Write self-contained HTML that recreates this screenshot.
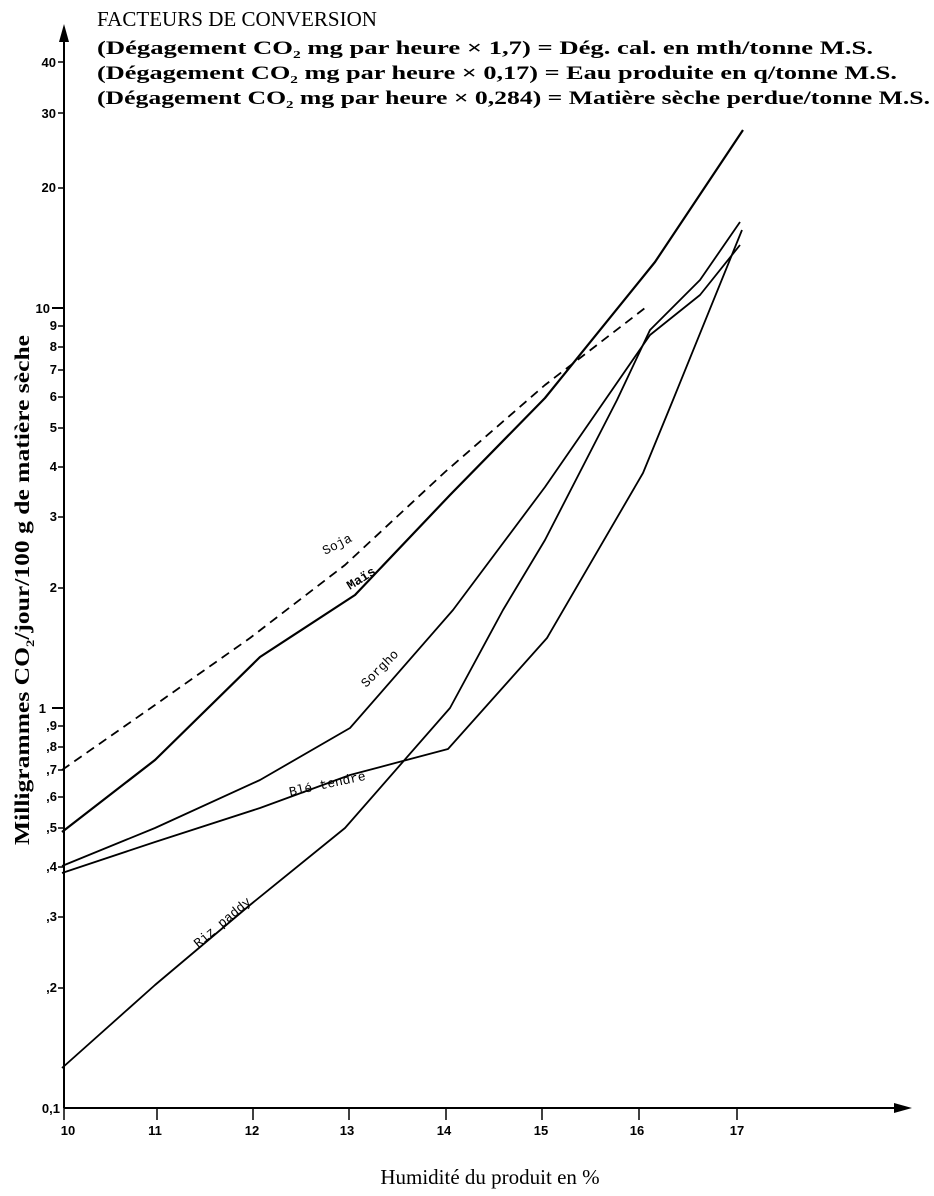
<!DOCTYPE html>
<html><head><meta charset="utf-8"><style>
html,body{margin:0;padding:0;background:#fff;width:934px;height:1196px;overflow:hidden}
svg{display:block}
text{font-family:"Liberation Serif",serif;fill:#000}
.t{font-family:"Liberation Sans",sans-serif;font-weight:bold;font-size:13px}
.l{font-family:"Liberation Mono",monospace;font-size:13px}
</style></head><body>
<svg width="934" height="1196" viewBox="0 0 934 1196" xmlns="http://www.w3.org/2000/svg">
<g stroke="#000" fill="none" stroke-width="2">
<line x1="64" y1="30" x2="64" y2="1108"/>
<line x1="64" y1="1108" x2="905" y2="1108"/>
</g>
<polygon points="64,24 59,42 69,42" fill="#000"/>
<polygon points="912,1108 894,1103 894,1113" fill="#000"/>
<g stroke="#000" stroke-width="1.5">
<line x1="64" y1="1108" x2="64" y2="1120"/>
<line x1="157" y1="1108" x2="157" y2="1120"/>
<line x1="253" y1="1108" x2="253" y2="1120"/>
<line x1="349" y1="1108" x2="349" y2="1120"/>
<line x1="446" y1="1108" x2="446" y2="1120"/>
<line x1="542" y1="1108" x2="542" y2="1120"/>
<line x1="639" y1="1108" x2="639" y2="1120"/>
<line x1="737" y1="1108" x2="737" y2="1120"/>
<line x1="52" y1="308" x2="64" y2="308" stroke-width="2"/>
<line x1="52" y1="708" x2="64" y2="708" stroke-width="2"/>
<line x1="58" y1="62" x2="64" y2="62"/><line x1="58" y1="113" x2="64" y2="113"/><line x1="58" y1="188" x2="64" y2="188"/>
<line x1="58" y1="326" x2="64" y2="326"/><line x1="58" y1="347" x2="64" y2="347"/><line x1="58" y1="370" x2="64" y2="370"/><line x1="58" y1="397" x2="64" y2="397"/><line x1="58" y1="428" x2="64" y2="428"/><line x1="58" y1="467" x2="64" y2="467"/><line x1="58" y1="517" x2="64" y2="517"/><line x1="58" y1="588" x2="64" y2="588"/>
<line x1="58" y1="726" x2="64" y2="726"/><line x1="58" y1="747" x2="64" y2="747"/><line x1="58" y1="770" x2="64" y2="770"/><line x1="58" y1="797" x2="64" y2="797"/><line x1="58" y1="828" x2="64" y2="828"/><line x1="58" y1="867" x2="64" y2="867"/><line x1="58" y1="917" x2="64" y2="917"/><line x1="58" y1="988" x2="64" y2="988"/>
</g>
<g class="t" text-anchor="end">
<text class="t" x="56" y="67">40</text><text class="t" x="56" y="118">30</text><text class="t" x="56" y="192">20</text>
<text class="t" x="50" y="313">10</text>
<text class="t" x="57" y="330">9</text><text class="t" x="57" y="351">8</text><text class="t" x="57" y="374">7</text><text class="t" x="57" y="401">6</text><text class="t" x="57" y="432">5</text><text class="t" x="57" y="471">4</text><text class="t" x="57" y="521">3</text><text class="t" x="57" y="592">2</text>
<text class="t" x="46" y="713">1</text>
<text class="t" x="57" y="730">,9</text><text class="t" x="57" y="751">,8</text><text class="t" x="57" y="774">,7</text><text class="t" x="57" y="801">,6</text><text class="t" x="57" y="832">,5</text><text class="t" x="57" y="871">,4</text><text class="t" x="57" y="921">,3</text><text class="t" x="57" y="992">,2</text>
<text class="t" x="60" y="1113">0,1</text>
</g>
<g class="t" text-anchor="middle">
<text class="t" x="68" y="1135">10</text><text class="t" x="155" y="1135">11</text><text class="t" x="252" y="1135">12</text><text class="t" x="347" y="1135">13</text><text class="t" x="444" y="1135">14</text><text class="t" x="541" y="1135">15</text><text class="t" x="637" y="1135">16</text><text class="t" x="737" y="1135">17</text>
</g>
<g stroke="#000" fill="none" stroke-width="1.8" stroke-linejoin="round">
<polyline stroke-dasharray="9,6" points="62,770 155,705 250,638 345,565 445,472 545,385 645,308"/>
<polyline stroke-width="2.2" points="62,832 155,760 260,657 355,595 450,495 545,398 655,262 743,130"/>
<polyline points="62,866 155,828 260,780 350,728 453,610 545,487 650,335 700,295 740,245"/>
<polyline points="62,1068 155,985 250,905 345,828 450,708 503,610 545,540 617,400 650,330 700,280 740,222"/>
<polyline points="62,873 155,842 260,808 350,775 448,749 547,638 643,473 673,400 742,230"/>
</g>
<text class="l" transform="translate(325,555) rotate(-27)">Soja</text>
<text class="l" font-weight="bold" transform="translate(350,590) rotate(-32)">Maïs</text>
<text class="l" transform="translate(366,688) rotate(-45)">Sorgho</text>
<text class="l" transform="translate(290,796) rotate(-12)">Blé tendre</text>
<text class="l" transform="translate(198,948) rotate(-40)">Riz paddy</text>
<text x="97" y="26" font-size="21" textLength="280" lengthAdjust="spacingAndGlyphs">FACTEURS DE CONVERSION</text>
<text x="97" y="54" font-size="19" font-weight="bold" textLength="776" lengthAdjust="spacingAndGlyphs">(Dégagement CO<tspan font-size="11" dy="4">2</tspan><tspan dy="-4"> mg par heure × 1,7) = Dég. cal. en mth/tonne M.S.</tspan></text>
<text x="97" y="79" font-size="19" font-weight="bold" textLength="800" lengthAdjust="spacingAndGlyphs">(Dégagement CO<tspan font-size="11" dy="4">2</tspan><tspan dy="-4"> mg par heure × 0,17) = Eau produite en q/tonne M.S.</tspan></text>
<text x="97" y="104" font-size="19" font-weight="bold" textLength="833" lengthAdjust="spacingAndGlyphs">(Dégagement CO<tspan font-size="11" dy="4">2</tspan><tspan dy="-4"> mg par heure × 0,284) = Matière sèche perdue/tonne M.S.</tspan></text>
<text x="490" y="1184" font-size="21" text-anchor="middle">Humidité du produit en %</text>
<text transform="translate(29,590) rotate(-90)" font-size="21" font-weight="bold" text-anchor="middle" textLength="510" lengthAdjust="spacingAndGlyphs">Milligrammes CO<tspan font-size="12" dy="5">2</tspan><tspan dy="-5">/jour/100 g de matière sèche</tspan></text>
</svg>
</body></html>
